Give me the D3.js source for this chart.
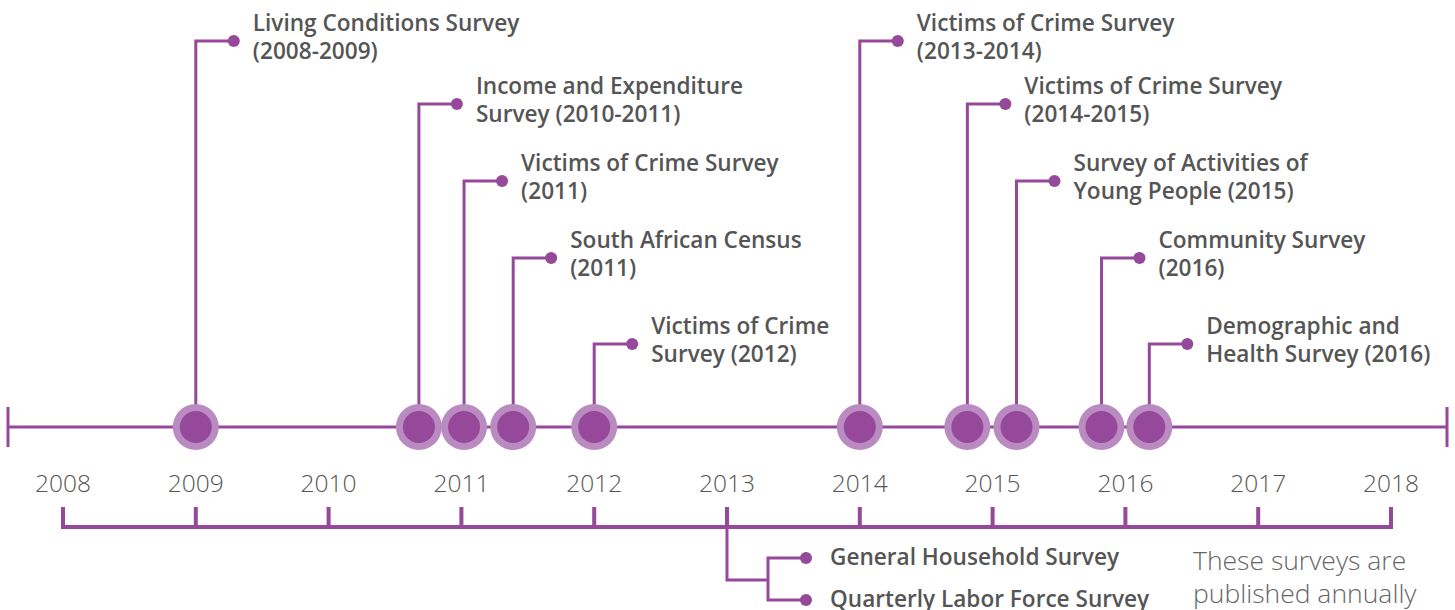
<!DOCTYPE html>
<html><head><meta charset="utf-8">
<script src="https://cdn.jsdelivr.net/npm/d3@7"></script>
<style>html,body{margin:0;padding:0;background:#fff;}svg{display:block;}</style>
</head><body>
<svg id="c" width="1455" height="610"></svg>
<script>
const tickYears = [2008,2009,2010,2011,2012,2013,2014,2015,2016,2017,2018];
const surveyYears = [2009.0, 2010.68, 2011.02, 2011.39, 2012.0, 2014.0, 2014.81, 2015.18, 2015.82, 2016.18];
const surveyLine1 = ["Living Conditions Survey","Income and Expenditure","Victims of Crime Survey","South African Census","Victims of Crime","Victims of Crime Survey","Victims of Crime Survey","Survey of Activities of","Community Survey","Demographic and"];
const surveyLine2 = ["(2008-2009)","Survey (2010-2011)","(2011)","(2011)","Survey (2012)","(2013-2014)","(2014-2015)","Young People (2015)","(2016)","Health Survey (2016)"];
const annualYear = 2013;
const annualSurveys = ["General Household Survey","Quarterly Labor Force Survey"];
const noteLines = ["These surveys are","published annually"];

const dark = "#96489a", light = "#b98bc0", textCol = "#555555";
const font = "'Open Sans', Lato, sans-serif";
const svg = d3.select("#c");
const x = d3.scaleLinear().domain([2008,2018]).range([63,1391]);
const axisY = 427;
const tierY = [41,104,181,258,344];

// main line
svg.append("line").attr("x1",8).attr("x2",1447).attr("y1",axisY).attr("y2",axisY).attr("stroke",dark).attr("stroke-width",3);
[8,1447].forEach(px=>svg.append("line").attr("x1",px).attr("x2",px).attr("y1",axisY-20).attr("y2",axisY+20).attr("stroke",dark).attr("stroke-width",3));

// stems
const g = svg.append("g");
surveyYears.forEach((yr,i)=>{
  const cx = x(yr), ty = tierY[i%5];
  g.append("path").attr("d",`M${cx},${axisY}V${ty}H${cx+38}`).attr("fill","none").attr("stroke",dark).attr("stroke-width",3);
  g.append("circle").attr("cx",cx+38).attr("cy",ty).attr("r",6).attr("fill",dark);
  const t = g.append("text").attr("x",cx+57).attr("font-family",font).attr("font-weight",600).attr("font-size",22.6).attr("fill",textCol);
  t.append("tspan").attr("x",cx+57).attr("y",ty-10).text(surveyLine1[i]);
  t.append("tspan").attr("x",cx+57).attr("y",ty+18).text(surveyLine2[i]);
});
surveyYears.forEach(yr=>{
  svg.append("circle").attr("cx",x(yr)).attr("cy",axisY).attr("r",23).attr("fill",light);
  svg.append("circle").attr("cx",x(yr)).attr("cy",axisY).attr("r",16).attr("fill",dark);
});

// year labels
svg.selectAll("text.yr").data(tickYears).enter().append("text").attr("class","yr")
  .attr("x",d=>x(d)).attr("y",492).attr("text-anchor","middle")
  .attr("font-family",font).attr("font-weight",300).attr("font-size",24.5).attr("fill",textCol).text(d=>d);

// bottom bracket
const by = 527;
svg.append("line").attr("x1",x(2008)).attr("x2",x(2018)).attr("y1",by).attr("y2",by).attr("stroke",dark).attr("stroke-width",4);
tickYears.forEach(d=>svg.append("line").attr("x1",x(d)).attr("x2",x(d)).attr("y1",by-20).attr("y2",by+2).attr("stroke",dark).attr("stroke-width",4));

// annual connector
const ax = x(annualYear);
svg.append("path").attr("d",`M${ax},${by}V580H768`).attr("fill","none").attr("stroke",dark).attr("stroke-width",3);
const ay = [558,600];
svg.append("path").attr("d",`M806,${ay[0]}H768V${ay[1]}H806`).attr("fill","none").attr("stroke",dark).attr("stroke-width",3);
annualSurveys.forEach((s,i)=>{
  svg.append("circle").attr("cx",806).attr("cy",ay[i]).attr("r",6).attr("fill",dark);
  svg.append("text").attr("x",830).attr("y",ay[i]+7).attr("font-family",font).attr("font-weight",600).attr("font-size",22.6).attr("fill",textCol).text(s);
});
noteLines.forEach((s,i)=>{
  svg.append("text").attr("x",1193).attr("y",570+i*33).attr("font-family",font).attr("font-weight",300).attr("font-size",26.5).attr("fill","#666").text(s);
});
</script>
</body></html>
